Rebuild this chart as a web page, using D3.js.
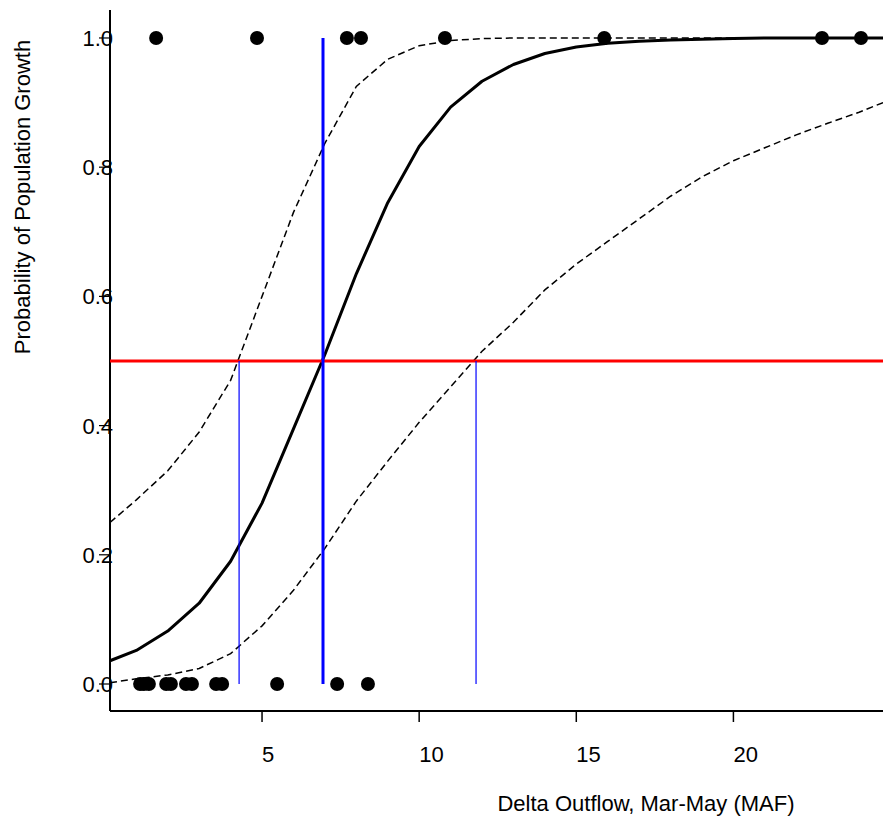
<!DOCTYPE html>
<html>
<head>
<meta charset="utf-8">
<script src="https://cdn.jsdelivr.net/npm/d3@7"></script>
<style>
  html, body { margin: 0; padding: 0; background: #fff; }
  svg { display: block; font-family: "Liberation Sans", Arial, sans-serif; }
</style>
</head>
<body>
<svg id="chart" width="883" height="820"></svg>
<script>
// ---- data ----
const xTicks = [5, 10, 15, 20];
const yTicks = [0.0, 0.2, 0.4, 0.6, 0.8, 1.0];
const yTickLabels = ["0.0", "0.2", "0.4", "0.6", "0.8", "1.0"];

// observed outcomes (flow, growth 0/1)
const obsZeroX = [1.12, 1.24, 1.40, 1.95, 2.10, 2.58, 2.77, 3.54, 3.73, 5.48, 7.39, 8.37];
const obsOneX = [1.63, 4.84, 7.70, 8.15, 10.82, 15.89, 22.82, 24.06];

// fitted curve and confidence bounds
const fitX = [0.162, 1, 2, 3, 4, 5, 6, 7, 8, 9, 10, 11, 12, 13, 14, 15, 16, 17, 18, 19, 20, 21, 22, 23, 24, 24.76];
const fitP = [0.036, 0.052, 0.082, 0.125, 0.19, 0.28, 0.395, 0.51, 0.635, 0.745, 0.832, 0.893, 0.933, 0.959, 0.976, 0.986, 0.992, 0.995, 0.997, 0.998, 0.999, 1.0, 1.0, 1.0, 1.0, 1.0];
const upperP = [0.25, 0.285, 0.33, 0.39, 0.47, 0.6, 0.73, 0.837, 0.925, 0.967, 0.988, 0.996, 0.999, 1.0, 1.0, 1.0, 1.0, 1.0, 1.0, 1.0, 1.0, 1.0, 1.0, 1.0, 1.0, 1.0];
const lowerP = [0.002, 0.008, 0.014, 0.024, 0.047, 0.09, 0.145, 0.21, 0.283, 0.345, 0.405, 0.46, 0.515, 0.56, 0.61, 0.65, 0.685, 0.72, 0.755, 0.785, 0.81, 0.83, 0.85, 0.868, 0.885, 0.90];

const threshold = 0.5;
const flow50 = 6.94;       // fitted flow at P=0.5
const flow50Lo = 4.27;     // upper bound crosses 0.5
const flow50Hi = 11.81;    // lower bound crosses 0.5

// ---- scales ----
const svg = d3.select("#chart");
const x = d3.scaleLinear().domain([0.162, 24.76]).range([110, 883]);
const y = d3.scaleLinear().domain([-0.0418, 1.0433]).range([711, 10]);

// ---- axes ----
const font = "22px";
svg.append("line").attr("x1", 110).attr("x2", 110).attr("y1", y.range()[1]).attr("y2", y.range()[0])
  .attr("stroke", "#000").attr("stroke-width", 2);
svg.append("line").attr("x1", 110).attr("x2", 883).attr("y1", 711).attr("y2", 711)
  .attr("stroke", "#000").attr("stroke-width", 2);

const xAxis = svg.append("g");
xTicks.forEach(t => {
  xAxis.append("line").attr("x1", x(t)).attr("x2", x(t)).attr("y1", 711).attr("y2", 722)
    .attr("stroke", "#000").attr("stroke-width", 1.5);
  xAxis.append("text").attr("x", x(t)).attr("y", 762).attr("text-anchor", "start")
    .attr("font-size", font).attr("fill", "#000").text(String(t));
});

const yAxis = svg.append("g");
yTicks.forEach((t, i) => {
  yAxis.append("text").attr("x", 113).attr("y", y(t) + 8).attr("text-anchor", "end")
    .attr("font-size", font).attr("fill", "#000").text(yTickLabels[i]);
  yAxis.append("line").attr("x1", 99).attr("x2", 110).attr("y1", y(t)).attr("y2", y(t))
    .attr("stroke", "#000").attr("stroke-width", 1.2);
});

svg.append("text").attr("x", 646).attr("y", 811).attr("text-anchor", "middle")
  .attr("font-size", font).attr("fill", "#000").text("Delta Outflow, Mar-May (MAF)");
svg.append("text").attr("transform", "translate(30,197) rotate(-90)").attr("text-anchor", "middle")
  .attr("font-size", font).attr("fill", "#000").text("Probability of Population Growth");

// ---- marks ----
const plot = svg.append("g");
const line = d3.line().x(d => x(d[0])).y(d => y(d[1]));

// points
plot.selectAll("circle.zero").data(obsZeroX).enter().append("circle")
  .attr("cx", d => x(d)).attr("cy", y(0)).attr("r", 7).attr("fill", "#000");
plot.selectAll("circle.one").data(obsOneX).enter().append("circle")
  .attr("cx", d => x(d)).attr("cy", y(1)).attr("r", 7).attr("fill", "#000");

// confidence bounds (dashed)
plot.append("path").attr("d", line(fitX.map((v, i) => [v, upperP[i]])))
  .attr("fill", "none").attr("stroke", "#000").attr("stroke-width", 1.5).attr("stroke-dasharray", "7,4");
plot.append("path").attr("d", line(fitX.map((v, i) => [v, lowerP[i]])))
  .attr("fill", "none").attr("stroke", "#000").attr("stroke-width", 1.5).attr("stroke-dasharray", "7,4");

// fitted curve
plot.append("path").attr("d", line(fitX.map((v, i) => [v, fitP[i]])))
  .attr("fill", "none").attr("stroke", "#000").attr("stroke-width", 3).attr("stroke-linejoin", "round");

// threshold lines
plot.append("line").attr("x1", 110).attr("x2", 883).attr("y1", y(threshold)).attr("y2", y(threshold))
  .attr("stroke", "#ff0000").attr("stroke-width", 3);
plot.append("line").attr("x1", x(flow50)).attr("x2", x(flow50)).attr("y1", y(0)).attr("y2", y(1))
  .attr("stroke", "#0000ff").attr("stroke-width", 3);
[flow50Lo, flow50Hi].forEach(v => {
  plot.append("line").attr("x1", x(v)).attr("x2", x(v)).attr("y1", y(0)).attr("y2", y(threshold))
    .attr("stroke", "#0000ff").attr("stroke-width", 1.2);
});
</script>
</body>
</html>
